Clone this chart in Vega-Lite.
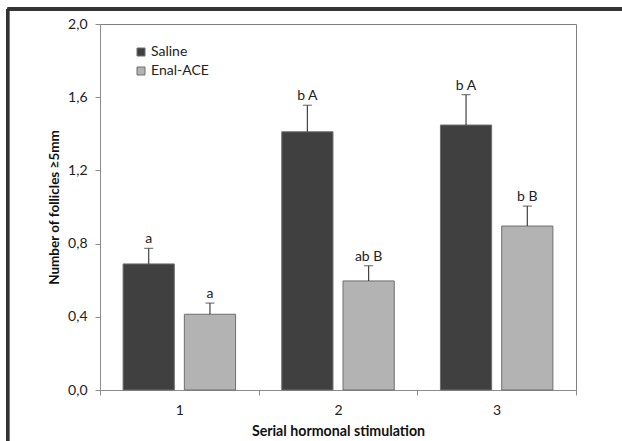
{
  "$schema": "https://vega.github.io/schema/vega-lite/v6.json",
  "width": 476,
  "height": 366,
  "autosize": "none",
  "padding": {"left": 100, "top": 24, "right": 46, "bottom": 51},
  "background": "white",
  "config": {
    "font": "Lato",
    "view": {"stroke": "#7f7f7f", "strokeWidth": 1},
    "axis": {"labelFont": "Lato", "titleFont": "Lato", "labelColor": "#222222", "titleColor": "#111111", "domainColor": "#8c8c8c", "tickColor": "#8c8c8c", "grid": false}
  },
  "data": {"values": [
    {"stim": "1", "group": "Saline", "mean": 0.689, "upper": 0.774, "label": "a"},
    {"stim": "1", "group": "Enal-ACE", "mean": 0.414, "upper": 0.475, "label": "a"},
    {"stim": "2", "group": "Saline", "mean": 1.411, "upper": 1.556, "label": "b A"},
    {"stim": "2", "group": "Enal-ACE", "mean": 0.596, "upper": 0.679, "label": "ab B"},
    {"stim": "3", "group": "Saline", "mean": 1.448, "upper": 1.614, "label": "b A"},
    {"stim": "3", "group": "Enal-ACE", "mean": 0.896, "upper": 1.005, "label": "b B"}
  ]},
  "resolve": {"scale": {"x": "independent"}},
  "layer": [
    {
      "encoding": {
        "x": {"field": "stim", "type": "nominal", "title": "Serial hormonal stimulation",
          "scale": {"paddingInner": 0, "paddingOuter": 0},
          "axis": {"labelAngle": 0, "labelFontSize": 14, "labelPadding": 8, "tickBand": "extent", "tickSize": 5, "titleFontSize": 14.2, "titleFontWeight": "bold", "titlePadding": 7}},
        "xOffset": {"field": "group", "type": "nominal", "sort": ["Saline", "Enal-ACE"],
          "scale": {"paddingInner": 0.164, "paddingOuter": 0.377}},
        "y": {"type": "quantitative",
          "scale": {"domain": [0, 2], "nice": false},
          "axis": {"values": [0, 0.4, 0.8, 1.2, 1.6, 2.0], "labelExpr": "replace(format(datum.value, '.1f'), '.', ',')", "labelFontSize": 14, "labelPadding": 8, "tickSize": 5, "title": "Number of follicles \u22655mm", "titleFontSize": 13.5, "titleFontWeight": "bold", "titlePadding": 6}}
      },
      "layer": [
        {
          "mark": {"type": "bar", "stroke": "#6e6e6e", "strokeWidth": 1},
          "encoding": {
            "y": {"field": "mean", "type": "quantitative"},
            "fill": {"field": "group", "type": "nominal", "sort": ["Saline", "Enal-ACE"],
              "scale": {"domain": ["Saline", "Enal-ACE"], "range": ["#404040", "#b3b3b3"]},
              "legend": {"title": null, "orient": "none", "legendX": 34, "legendY": 21, "symbolType": "square", "symbolSize": 64, "symbolStrokeColor": "#6e6e6e", "symbolStrokeWidth": 1, "labelFontSize": 14, "labelColor": "#222222", "rowPadding": 5, "labelOffset": 3}}
          }
        },
        {
          "mark": {"type": "rule", "color": "#404040", "strokeWidth": 1.2},
          "encoding": {
            "y": {"field": "mean", "type": "quantitative"},
            "y2": {"field": "upper"}
          }
        },
        {
          "mark": {"type": "tick", "color": "#404040", "thickness": 1.2, "size": 9},
          "encoding": {
            "y": {"field": "upper", "type": "quantitative"}
          }
        },
        {
          "mark": {"type": "text", "baseline": "bottom", "dy": -2, "fontSize": 14, "color": "#222222"},
          "encoding": {
            "y": {"field": "upper", "type": "quantitative"},
            "text": {"field": "label"}
          }
        }
      ]
    },
    {
      "mark": {"type": "rule", "color": "#333333", "strokeWidth": 3, "clip": false},
      "encoding": {
        "x": {"datum": -0.194, "type": "quantitative", "scale": {"domain": [0, 1], "nice": false, "zero": false}, "axis": null},
        "x2": {"datum": 1.1},
        "y": {"datum": 2.082, "type": "quantitative"}
      }
    },
    {
      "mark": {"type": "rule", "color": "#333333", "strokeWidth": 3, "clip": false},
      "encoding": {
        "x": {"datum": -0.194, "type": "quantitative", "scale": {"domain": [0, 1], "nice": false, "zero": false}, "axis": null},
        "y": {"datum": 2.082, "type": "quantitative"},
        "y2": {"datum": -0.4}
      }
    }
  ]
}
